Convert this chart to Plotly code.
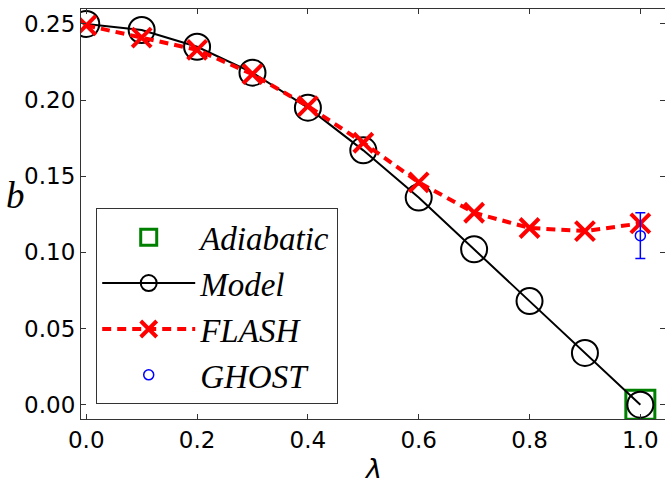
import plotly.graph_objects as go

lam = [0.0, 0.1, 0.2, 0.3, 0.4, 0.5, 0.6, 0.7, 0.8, 0.9, 1.0]
model_b = [0.250, 0.246, 0.235, 0.218, 0.195, 0.167, 0.136, 0.102, 0.068, 0.034, 0.0]
flash_b = [0.249, 0.241, 0.233, 0.217, 0.196, 0.172, 0.146, 0.126, 0.116, 0.114, 0.119]
adiabatic_x = [1.0]
adiabatic_b = [0.0]
ghost_x = [1.0]
ghost_b = [0.111]
ghost_err = [0.015]

xticks = [0.0, 0.2, 0.4, 0.6, 0.8, 1.0]
yticks = [0.00, 0.05, 0.10, 0.15, 0.20, 0.25]

serif = "Liberation Serif"

fig = go.Figure()
fig.add_trace(go.Scatter(
    x=adiabatic_x, y=adiabatic_b, mode="markers", name="<i>Adiabatic</i>",
    marker=dict(symbol="square-open", size=29, color="#008000", line=dict(width=3, color="#008000")),
))
fig.add_trace(go.Scatter(
    x=lam, y=model_b, mode="lines+markers", name="<i>Model</i>",
    line=dict(color="black", width=2),
    marker=dict(symbol="circle-open", size=26, color="black", line=dict(width=2, color="black")),
))
fig.add_trace(go.Scatter(
    x=lam, y=flash_b, mode="lines+markers", name="<i>FLASH</i>",
    line=dict(color="red", width=4, dash="9px,6px"),
    marker=dict(symbol="x-thin-open", size=19, color="red", line=dict(width=4, color="red")),
))
fig.add_trace(go.Scatter(
    x=ghost_x, y=ghost_b, mode="markers", name="<i>GHOST</i>",
    marker=dict(symbol="circle-open", size=10, color="blue", line=dict(width=1.5, color="blue")),
    error_y=dict(type="data", array=ghost_err, color="blue", thickness=1.5, width=5),
))

axis_common = dict(
    showgrid=False, zeroline=False, showline=True, linecolor="#333333", linewidth=1.2,
    mirror="allticks", ticks="inside", ticklen=5, tickcolor="#333333", automargin=False,
    tickfont=dict(family="DejaVu Sans", size=23, color="black"),
)
fig.update_xaxes(range=[-0.0095, 1.0445], tickvals=xticks, ticktext=[f"{v:.1f}" for v in xticks],
                 **axis_common)
fig.update_yaxes(range=[-0.0094, 0.2598], tickvals=yticks, ticktext=[f"{v:.2f}" for v in yticks],
                 **axis_common)

fig.add_annotation(text="<i>b</i>", xref="paper", yref="paper", x=-0.112, y=0.545,
                   xanchor="center", yanchor="middle",
                   showarrow=False, font=dict(family=serif, size=37, color="black"))
fig.add_annotation(text="<i>λ</i>", xref="paper", yref="paper", x=0.5, y=-0.12,
                   xanchor="center", yanchor="middle",
                   showarrow=False, font=dict(family="DejaVu Sans", size=27, color="black"))

fig.update_layout(
    width=665, height=488,
    margin=dict(l=81, r=0, t=9, b=69),
    paper_bgcolor="white", plot_bgcolor="white",
    showlegend=True,
    legend=dict(x=0.0257, y=0.5146, xanchor="left", yanchor="top",
                bgcolor="white", bordercolor="#333333", borderwidth=1.2,
                font=dict(family=serif, size=33, color="black"),
                itemwidth=93, tracegroupgap=0),
)

fig.write_html("out.html", config={"displayModeBar": False},
               post_script="document.body.style.margin='0';")
